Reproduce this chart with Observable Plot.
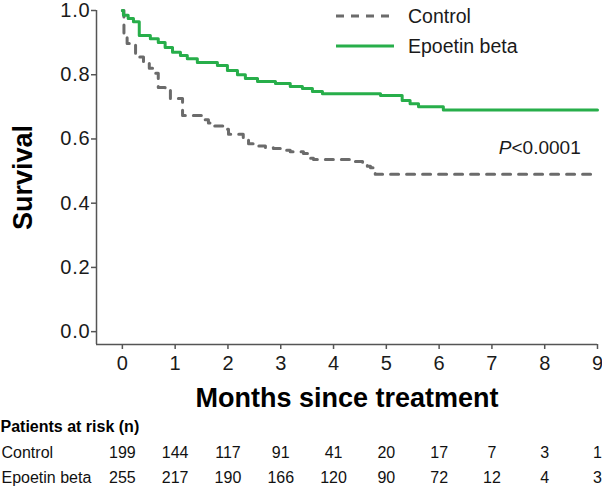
<!DOCTYPE html>
<html><head><meta charset="utf-8">
<script src="https://cdn.jsdelivr.net/npm/d3@7"></script>
<script src="https://cdn.jsdelivr.net/npm/@observablehq/plot@0.6"></script>
<style>
body{margin:0;background:#fff;font-family:"Liberation Sans",Arial,sans-serif;}
#wrap{position:relative;width:602px;height:486px;}
.leg{position:absolute;left:336px;height:20px;font-size:19.5px;color:#1a1a1a;display:flex;align-items:center;white-space:nowrap;}
.leg span{margin-left:14px;line-height:20px;}
svg g[aria-label^="y-axis"], svg g[aria-label^="x-axis"]{stroke-width:1.5px;}
svg g[aria-label^="y-axis"] line, svg g[aria-label^="x-axis"] line, svg g[aria-label^="y-axis"] path, svg g[aria-label^="x-axis"] path{stroke:#555 !important;stroke-width:1.5px !important;}
svg g[aria-label^="y-axis"] text, svg g[aria-label^="x-axis"] text{font-size:20px !important;fill:#1a1a1a !important;}
svg g[aria-label^="y-axis"] text{letter-spacing:0.8px;}
</style></head><body><div id="wrap"></div>
<script>
// Series names
const seriesNames = ["Control", "Epoetin beta"];
const seriesColors = ["#6b6b6b", "#27ae4a"];

// Kaplan-Meier steps: Control
const controlTime = [0, 0.03, 0.09, 0.25, 0.40, 0.51, 0.61, 0.68, 0.81, 0.91, 1.14, 1.52, 1.63, 1.72, 1.91, 2.01, 2.29, 2.39, 2.56, 2.71, 2.86, 3.05, 3.18, 3.43, 3.56, 3.62, 4.41, 4.55, 4.64, 4.70, 4.79, 9];
const controlSurv = [1.0, 0.93, 0.897, 0.855, 0.835, 0.82, 0.805, 0.76, 0.752, 0.726, 0.673, 0.66, 0.65, 0.64, 0.63, 0.615, 0.60, 0.585, 0.578, 0.573, 0.57, 0.565, 0.56, 0.555, 0.54, 0.536, 0.53, 0.52, 0.515, 0.51, 0.49, 0.49];

// Kaplan-Meier steps: Epoetin beta
const epoTime = [0, 0.02, 0.11, 0.21, 0.32, 0.53, 0.68, 0.81, 0.95, 1.10, 1.23, 1.42, 1.80, 1.99, 2.18, 2.33, 2.56, 2.90, 3.18, 3.41, 3.60, 3.79, 4.89, 5.30, 5.45, 5.61, 6.08, 9];
const epoSurv = [1.0, 0.985, 0.975, 0.965, 0.922, 0.912, 0.90, 0.885, 0.87, 0.86, 0.85, 0.838, 0.829, 0.813, 0.80, 0.788, 0.779, 0.773, 0.763, 0.757, 0.748, 0.741, 0.735, 0.72, 0.71, 0.70, 0.69, 0.69];

// Patients at risk
const riskMonths = [0, 1, 2, 3, 4, 5, 6, 7, 8, 9];
const riskControl = [199, 144, 117, 91, 41, 20, 17, 7, 3, 1];
const riskEpo = [255, 217, 190, 166, 120, 90, 72, 12, 4, 3];

// Axes
const xTicks = [0, 1, 2, 3, 4, 5, 6, 7, 8, 9];
const yTicks = [0, 0.2, 0.4, 0.6, 0.8, 1.0];
const xDomain = [-0.49, 9];
const yDomain = [-0.04, 1.0];
const xLabel = "Months since treatment";
const yLabel = "Survival";
const riskTitle = "Patients at risk (n)";
const pLabelItalic = "P";
const pLabelRest = "<0.0001";

const controlData = controlTime.map((t, i) => ({t, s: controlSurv[i]}));
const epoData = epoTime.map((t, i) => ({t, s: epoSurv[i]}));
const riskControlData = riskMonths.map((m, i) => ({m, n: riskControl[i]}));
const riskEpoData = riskMonths.map((m, i) => ({m, n: riskEpo[i]}));

const chart = Plot.plot({
  width: 602,
  height: 486,
  marginLeft: 96,
  marginRight: 5,
  marginTop: 10,
  marginBottom: 142,
  style: {fontFamily: '"Liberation Sans", Arial, sans-serif', fontSize: "20px", color: "#1a1a1a", background: "#fff", overflow: "visible"},
  x: {domain: xDomain, ticks: xTicks, tickSize: 5, tickPadding: 6, tickFormat: "d", label: null},
  y: {domain: yDomain, ticks: yTicks, tickSize: 5, tickPadding: 1, tickFormat: ".1f", label: null},
  marks: [
    Plot.ruleX([xDomain[0]], {stroke: "#555", strokeWidth: 1.5}),
    Plot.ruleY([yDomain[0]], {stroke: "#555", strokeWidth: 1.5}),
    Plot.line(controlData, {x: "t", y: "s", curve: "step-after", stroke: seriesColors[0], strokeWidth: 3, strokeDasharray: "8,8"}),
    Plot.line(epoData, {x: "t", y: "s", curve: "step-after", stroke: seriesColors[1], strokeWidth: 3}),
    Plot.text([yLabel], {text: d => d, frameAnchor: "left", textAnchor: "middle", lineAnchor: "middle", dx: -73, rotate: -90, fontSize: 27, fontWeight: "bold", fill: "#000"}),
    Plot.text([xLabel], {text: d => d, frameAnchor: "bottom", textAnchor: "middle", lineAnchor: "middle", dy: 54, fontSize: 27, fontWeight: "bold", fill: "#000"}),
    Plot.text([riskTitle], {text: d => d, frameAnchor: "bottom-left", textAnchor: "start", lineAnchor: "middle", dx: -96, dy: 82, fontSize: 16, fontWeight: "bold", fill: "#000"}),
    Plot.text([seriesNames[0]], {text: d => d, frameAnchor: "bottom-left", textAnchor: "start", lineAnchor: "middle", dx: -95, dy: 108, fontSize: 16, fill: "#111"}),
    Plot.text([seriesNames[1]], {text: d => d, frameAnchor: "bottom-left", textAnchor: "start", lineAnchor: "middle", dx: -95, dy: 133, fontSize: 16, fill: "#111"}),
    Plot.text(riskControlData, {x: "m", text: "n", frameAnchor: "bottom", lineAnchor: "middle", dy: 108, fontSize: 16, fill: "#111"}),
    Plot.text(riskEpoData, {x: "m", text: "n", frameAnchor: "bottom", lineAnchor: "middle", dy: 133, fontSize: 16, fill: "#111"}),
    Plot.text([pLabelItalic], {text: d => d, frameAnchor: "top-right", textAnchor: "end", lineAnchor: "middle", dx: -86, dy: 137, fontSize: 19, fontStyle: "italic", fill: "#1a1a1a"}),
    Plot.text([pLabelRest], {text: d => d, frameAnchor: "top-right", textAnchor: "start", lineAnchor: "middle", dx: -86, dy: 137, fontSize: 19, fill: "#1a1a1a"})
  ]
});
const wrap = document.getElementById("wrap");
wrap.appendChild(chart);

// Legend
const legTops = [6, 36];
seriesNames.forEach((name, i) => {
  const div = document.createElement("div");
  div.className = "leg";
  div.style.top = legTops[i] + "px";
  const dash = i === 0 ? ' stroke-dasharray="8,7"' : '';
  div.innerHTML = `<svg width="58" height="4"><line x1="0" x2="58" y1="2" y2="2" stroke="${seriesColors[i]}" stroke-width="3"${dash}/></svg><span>${name}</span>`;
  wrap.appendChild(div);
});
</script>
</body></html>
